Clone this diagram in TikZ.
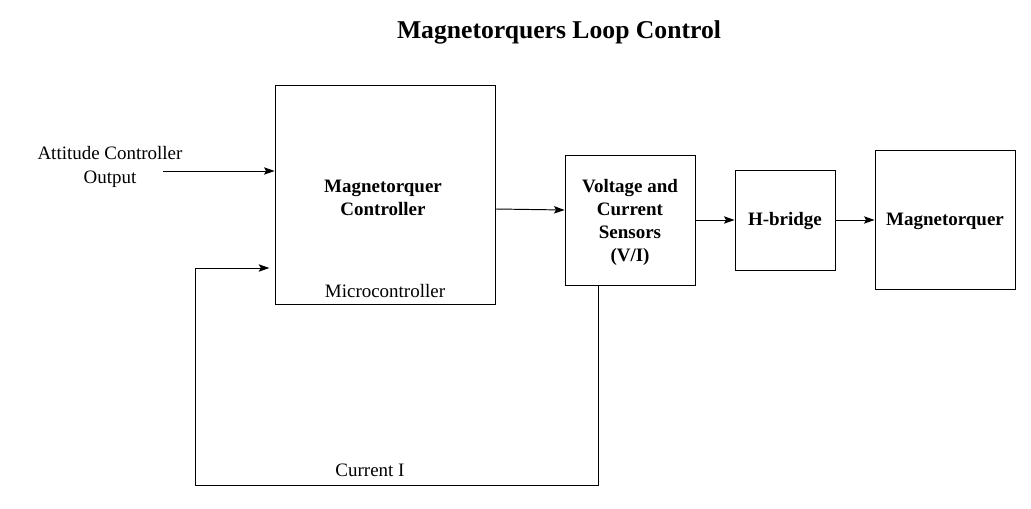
\documentclass[tikz,border=0pt]{standalone}
\usepackage{fontspec}
\setmainfont{Liberation Serif}
\usetikzlibrary{arrows.meta}

\begin{document}
\begin{tikzpicture}[->,>={Stealth[length=6pt,width=4.2pt,inset=1.2pt]},x=0.02cm,y=-0.02cm,
  line width=0.55pt,
  block/.style={draw,font=\fontsize{10.8}{13.2}\selectfont\bfseries,align=center,inner sep=0pt},
  plain text/.style={font=\fontsize{10.8}{13.6}\selectfont,align=center}]

  \useasboundingbox (0,0) rectangle (1031,509);

  \node[font=\fontsize{14.6}{17}\selectfont\bfseries] (title) at (559,32) {Magnetorquers Loop Control};

  \node[block,minimum width=4.4cm,minimum height=4.4cm] (mc) at (385,195) {};
  \node[block,draw=none] (mctext) at (383,197.5) {Magnetorquer\\Controller};
  \node[plain text] (mcname) at (385,291) {Microcontroller};
  \node[block,minimum width=2.6cm,minimum height=2.6cm] (sens) at (630,220) {};
  \node[block,draw=none] (senstext) at (630,222.5) {Voltage and\\Current\\Sensors\\(V/I)};
  \node[block,minimum width=2cm,minimum height=2cm] (hb) at (785,220) {};
  \node[block,draw=none] (hbtext) at (785,221.5) {H-bridge};
  \node[block,minimum width=2.8cm,minimum height=2.8cm] (mt) at (945,220) {};
  \node[block,draw=none] (mttext) at (945,221.5) {Magnetorquer};

  \node[plain text] (att) at (110,167) {Attitude Controller\\Output};
  \coordinate (in) at (163,171);
  \coordinate (fb) at (195,485);
  \node[plain text] (cur) at (370,470) {Current I};

  \draw (in) -- (mc.west |- in);
  \draw (mc.east |- 0,209) -- (sens.west |- 0,210);
  \draw (sens) -- (hb);
  \draw (hb) -- (mt);
  \draw ([xshift=-0.64cm]sens.south) |- (fb) |- ([xshift=-3pt]mc.west |- 0,268);
\end{tikzpicture}
\end{document}
